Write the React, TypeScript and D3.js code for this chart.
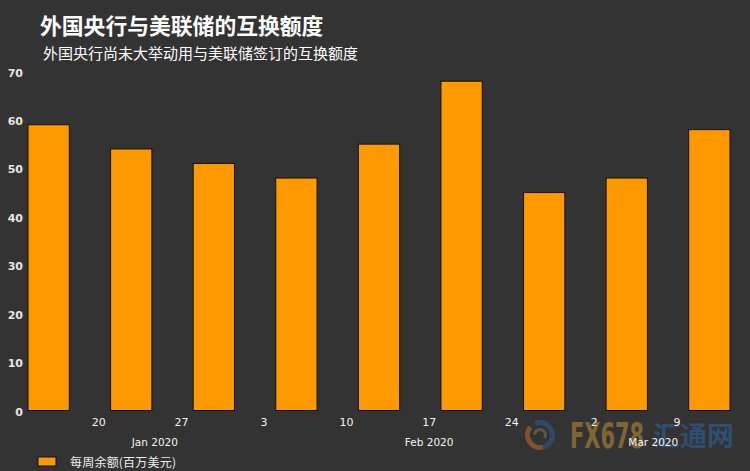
import React, { useEffect, useRef } from 'react';
import * as d3 from 'd3';

const weekStarts = ['2020-01-14', '2020-01-21', '2020-01-28', '2020-02-04', '2020-02-11', '2020-02-18', '2020-02-25', '2020-03-03', '2020-03-10'];
const balances = [59, 54, 51, 48, 55, 68, 45, 48, 58];
const yTicks = [0, 10, 20, 30, 40, 50, 60, 70];
const dayTicks = ['2020-01-20', '2020-01-27', '2020-02-03', '2020-02-10', '2020-02-17', '2020-02-24', '2020-03-02', '2020-03-09'];
const monthLabels = [
  { label: 'Jan 2020', at: '2020-01-24T18:00:00Z' },
  { label: 'Feb 2020', at: '2020-02-17T00:00:00Z' },
  { label: 'Mar 2020', at: '2020-03-07T00:00:00Z' },
];

const title = '外国央行与美联储的互换额度';
const subtitle = '外国央行尚未大举动用与美联储签订的互换额度';
const legendLabel = '每周余额(百万美元)';

const width = 750;
const height = 471;
const cjk = '"Noto Sans CJK SC", sans-serif';
const latin = '"DejaVu Sans", sans-serif';
const halfWeek = 3.5 * 24 * 3600 * 1000;

const day = (s: string) => new Date(s + 'T00:00:00Z');

const App: React.FC = () => {
  const svgRef = useRef<SVGSVGElement | null>(null);

  useEffect(() => {
    const svg = d3.select(svgRef.current);
    svg.selectAll('*').remove();

    const x = d3.scaleUtc()
      .domain([day('2020-01-14'), new Date(day('2020-03-10').getTime() + halfWeek)])
      .range([28, 730]);
    const y = d3.scaleLinear().domain([0, 70]).range([410.5, 71.5]);

    svg.append('rect').attr('width', width).attr('height', height).attr('fill', '#333333');

    // watermark
    const mark = svg.append('g').attr('opacity', 0.5);
    const ring = (inner: number, outer: number, start: number, end: number, fill: string) =>
      mark.append('path')
        .attr('transform', 'translate(540,435)')
        .attr('d', d3.arc()({ innerRadius: inner, outerRadius: outer, startAngle: start, endAngle: end }) as string)
        .attr('fill', fill);
    ring(10, 15, -0.4, 2.9, '#2d5f9e');
    ring(10, 15, 2.9, 5.4, '#d0702a');
    ring(4, 7, -1.5, 2.2, '#8a7a50');
    mark.append('text').attr('x', 570).attr('y', 448)
      .attr('fill', '#d09a30').attr('font-family', latin).attr('font-size', 35).attr('font-weight', 700)
      .attr('textLength', 74).attr('lengthAdjust', 'spacingAndGlyphs')
      .text('FX678');
    mark.append('text').attr('x', 653).attr('y', 446)
      .attr('fill', '#2d6cb0').attr('font-family', cjk).attr('font-size', 27).attr('font-weight', 700)
      .text('汇通网');

    // bars
    svg.append('g').selectAll('rect')
      .data(weekStarts)
      .enter().append('rect')
      .attr('x', d => x(day(d)))
      .attr('y', (_, i) => y(balances[i]))
      .attr('width', d => x(new Date(day(d).getTime() + halfWeek)) - x(day(d)))
      .attr('height', (_, i) => y(0) - y(balances[i]))
      .attr('fill', '#ff9900')
      .attr('stroke', '#111111')
      .attr('stroke-width', 1);

    // axes
    const yAxis = svg.append('g')
      .attr('transform', 'translate(28,0)')
      .call(d3.axisLeft(y).tickValues(yTicks).tickSize(0).tickPadding(5));
    yAxis.select('.domain').remove();
    yAxis.selectAll('text')
      .attr('dy', '0.42em')
      .attr('fill', '#e6e6e6')
      .attr('font-family', latin)
      .attr('font-size', 11)
      .attr('font-weight', 600);

    const xAxis = svg.append('g')
      .attr('transform', 'translate(-0.5,410.5)')
      .call(d3.axisBottom(x).tickValues(dayTicks.map(day)).tickFormat(d3.utcFormat('%-d') as any).tickSize(0).tickPadding(8));
    xAxis.select('.domain').remove();
    xAxis.selectAll('text')
      .attr('fill', '#f2f2f2')
      .attr('font-family', latin)
      .attr('font-size', 11);

    svg.append('g').selectAll('text')
      .data(monthLabels)
      .enter().append('text')
      .attr('x', d => x(new Date(d.at)))
      .attr('y', 446)
      .attr('text-anchor', 'middle')
      .attr('fill', '#f2f2f2')
      .attr('font-family', latin)
      .attr('font-size', 10.5)
      .text(d => d.label);

    // titles
    svg.append('text').attr('x', 40).attr('y', 33.5)
      .attr('fill', '#ffffff').attr('font-family', cjk).attr('font-size', 21.8).attr('font-weight', 700)
      .text(title);
    svg.append('text').attr('x', 43).attr('y', 59)
      .attr('fill', '#ffffff').attr('font-family', cjk).attr('font-size', 15)
      .text(subtitle);

    // legend
    svg.append('rect').attr('x', 38).attr('y', 457).attr('width', 18).attr('height', 9)
      .attr('fill', '#ff9900').attr('stroke', '#111111');
    svg.append('text').attr('x', 70).attr('y', 467)
      .attr('fill', '#eeeeee').attr('font-family', cjk).attr('font-size', 12)
      .attr('textLength', 106)
      .text(legendLabel);
  }, []);

  return <svg ref={svgRef} width={width} height={height} style={{ position: 'absolute', left: 0, top: 0 }} />;
};

export default App;
